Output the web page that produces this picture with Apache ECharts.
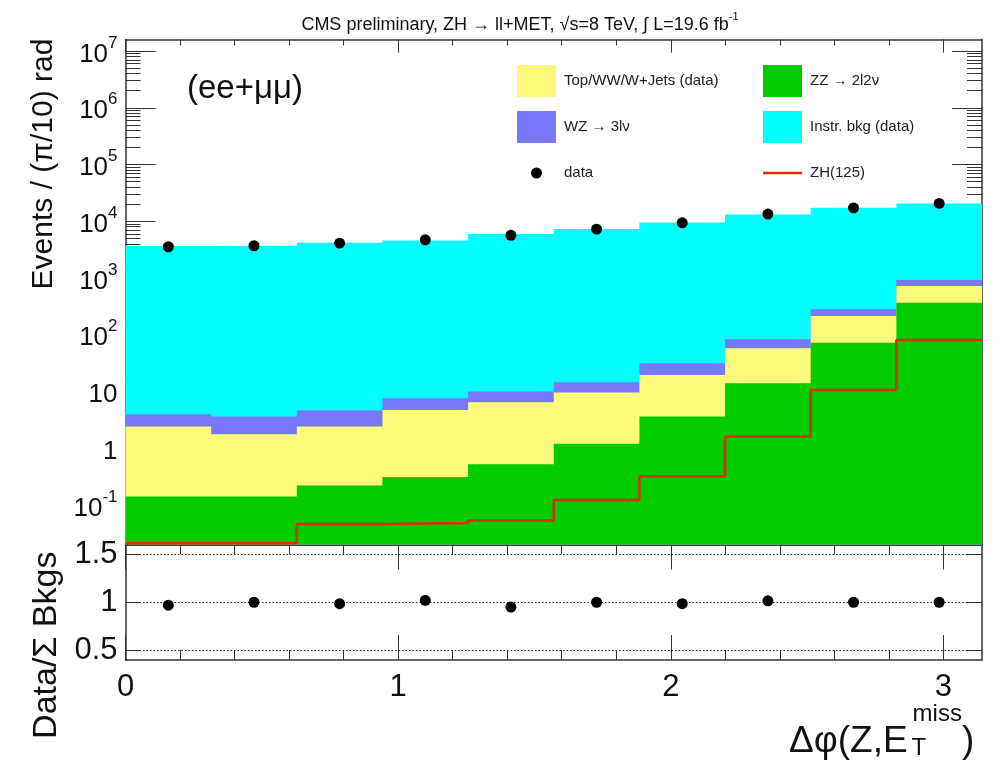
<!DOCTYPE html>
<html>
<head>
<meta charset="utf-8">
<script src="https://cdn.jsdelivr.net/npm/echarts@6/dist/echarts.min.js"></script>
<style>
html,body{margin:0;padding:0;background:#fff;}
#chart{width:1003px;height:762px;}
</style>
</head>
<body>
<div id="chart"></div>
<script>
// ---- data ----
const binEdges   = [0, 0.31416, 0.62832, 0.94248, 1.25664, 1.5708, 1.88496, 2.19911, 2.51327, 2.82743, 3.14159];
const binCenters = [0.15708, 0.47124, 0.7854, 1.09956, 1.41372, 1.72788, 2.04204, 2.3562, 2.67035, 2.98451];
const zz    = [0.14, 0.14, 0.22, 0.31, 0.52, 1.2, 3.6, 13.9, 72, 366];
const topww = [2.26, 1.62, 2.18, 4.4, 5.9, 8.4, 15.9, 43.7, 141, 354];
const wz    = [1.57, 1.84, 2.19, 2.9, 3.5, 4.9, 11.9, 25.4, 67, 198];
const instr = [3640, 3690, 4160, 4580, 5920, 7250, 9500, 13100, 16940, 19640];
const dataEv = [3550, 3700, 4100, 4700, 5650, 7250, 9400, 13400, 17200, 20600];
const zh125 = [0.021, 0.021, 0.046, 0.048, 0.053, 0.122, 0.32, 1.6, 10.6, 81];
const ratio = [0.97, 1.0, 0.985, 1.02, 0.95, 1.0, 0.985, 1.015, 1.0, 1.0];
const xMajorTicks = [0, 1, 2, 3];
const xMinorTicks = [0.2,0.4,0.6,0.8,1.2,1.4,1.6,1.8,2.2,2.4,2.6,2.8,3.0];
const yDecades = [0.1, 1, 10, 100, 1e3, 1e4, 1e5, 1e6, 1e7];
const ratioTicks = [0.5, 1, 1.5];

const FONT = 'Liberation Sans, Arial, Helvetica, sans-serif';
const PI = 3.14159265;
const Y_MIN = 0.02, Y_MAX = 1.6e7;

// minor log ticks (2..9 x decade) inside the axis range
const yMinorTicks = [];
for (let e = -2; e <= 7; e++) for (let k = 2; k <= 9; k++) {
  const v = k * Math.pow(10, e);
  if (v >= Y_MIN && v <= Y_MAX) yMinorTicks.push(+v.toPrecision(3));
}

function stepPts(vals) {
  const p = vals.map((v, i) => [binEdges[i], v]);
  p.push([binEdges[binEdges.length - 1], vals[vals.length - 1]]);
  return p;
}
const cumZZ = zz.slice();
const cumTop = zz.map((v, i) => v + topww[i]);
const cumWZ = cumTop.map((v, i) => v + wz[i]);
const cumAll = cumWZ.map((v, i) => v + instr[i]);

const C_CYAN = '#00ffff', C_BLUE = '#7878fc', C_YEL = '#fcf97b', C_GRN = '#00cc00', C_RED = '#dd2b0e';
const INK = '#111';
const FRAME = {show: true, onZero: false, lineStyle: {color: '#333', width: 1.5}};
const NOLINE = {show: false, onZero: false};

function xAx(grid, pos, ticks, len, opts) {
  return Object.assign({
    gridIndex: grid, type: 'value', min: 0, max: PI, position: pos,
    axisLine: NOLINE, splitLine: {show: false},
    axisTick: {show: true, inside: true, length: len, customValues: ticks, lineStyle: {color: '#333', width: 1}},
    axisLabel: {show: false}
  }, opts || {});
}
function yLog(grid, pos, ticks, len, opts) {
  return Object.assign({
    gridIndex: grid, type: 'log', logBase: 10, min: Y_MIN, max: Y_MAX, position: pos,
    axisLine: NOLINE, splitLine: {show: false}, minorTick: {show: false},
    axisTick: {show: true, inside: true, length: len, customValues: ticks, lineStyle: {color: '#333', width: 1}},
    axisLabel: {show: false}
  }, opts || {});
}
function areaSeries(name, vals, color) {
  return {
    name: name, type: 'line', xAxisIndex: 0, yAxisIndex: 0, step: 'end', z: 2,
    data: stepPts(vals), symbol: 'none', showSymbol: false, color: color,
    itemStyle: {color: color}, lineStyle: {width: 0, color: color},
    areaStyle: {color: color, opacity: 1, origin: 'start'}, silent: true
  };
}

const chart = echarts.init(document.getElementById('chart'), null, {renderer: 'canvas'});
const dotIcon = 'path://M0,0L0.01,0M39,32L38.99,32M14,16a5.5,5.5 0 1,0 11,0a5.5,5.5 0 1,0 -11,0z';
const lineIcon = 'path://M0,0L0.01,0M39,32L38.99,32M0,14.8L39,14.8L39,17.2L0,17.2Z';

const GRID_MAIN = {left: 125.5, top: 39.5, width: 856.5, height: 505, containLabel: false, outerBoundsMode: 'none'};
const GRID_RATIO = {left: 125.5, top: 544.5, width: 856.5, height: 115.5, containLabel: false, outerBoundsMode: 'none'};

chart.setOption({
  animation: false,
  backgroundColor: '#fff',
  textStyle: {fontFamily: FONT},
  title: {
    text: '{a|CMS preliminary, ZH → ll+MET, √s=8 TeV, ∫ L=19.6 fb}{s|-1}',
    left: 515, top: 6, textAlign: 'center',
    textStyle: {fontWeight: 'normal', rich: {
      a: {fontSize: 18, fontFamily: FONT, fontWeight: 'normal', color: INK, verticalAlign: 'bottom', lineHeight: 23},
      s: {fontSize: 11, fontFamily: FONT, fontWeight: 'normal', color: INK, verticalAlign: 'top', lineHeight: 11}
    }}
  },
  legend: [
    {left: 517, top: 65, orient: 'vertical', itemWidth: 39, itemHeight: 32, itemGap: 14, padding: 0,
     selectedMode: false, textStyle: {fontSize: 15, color: '#222', fontFamily: FONT, padding: [0,0,0,3]},
     data: [{name: 'Top/WW/W+Jets (data)', icon: 'rect'}, {name: 'WZ → 3lν', icon: 'rect'}, {name: 'data', icon: dotIcon}]},
    {left: 763, top: 65, orient: 'vertical', itemWidth: 39, itemHeight: 32, itemGap: 14, padding: 0,
     selectedMode: false, textStyle: {fontSize: 15, color: '#222', fontFamily: FONT, padding: [0,0,0,3]},
     data: [{name: 'ZZ → 2l2ν', icon: 'rect'}, {name: 'Instr. bkg (data)', icon: 'rect'}, {name: 'ZH(125)', icon: lineIcon}]}
  ],
  graphic: [
    {type: 'text', left: 187, top: 72, silent: true,
     style: {text: '(ee+μμ)', fontSize: 33, fontFamily: FONT, fill: INK}},
    // x-axis title with stacked sub/superscript
    {type: 'text', x: 789, y: 702, silent: true,
     style: {
       text: '{m|Δφ(Z,E}{g| }{t|T}{s|miss}{m|)}{z| }',
       align: 'left', verticalAlign: 'top', fill: INK,
       rich: {
         m: {fontSize: 37, fontFamily: FONT, fill: INK, lineHeight: 52, verticalAlign: 'bottom'},
         g: {fontSize: 10, lineHeight: 10, width: 4},
         t: {fontSize: 24, fontFamily: FONT, fill: INK, verticalAlign: 'bottom', lineHeight: 16, width: 1, align: 'left'},
         s: {fontSize: 24, fontFamily: FONT, fill: INK, verticalAlign: 'top', lineHeight: 24},
         z: {fontSize: 10, lineHeight: 58, width: 1}
       }
     }}
  ],
  grid: [GRID_MAIN, GRID_RATIO, Object.assign({}, GRID_MAIN), Object.assign({}, GRID_RATIO)],
  xAxis: [
    // grid 0 (main): major ticks + frame
    xAx(0, 'bottom', xMajorTicks, 13, {axisLine: FRAME}),
    xAx(0, 'top', xMajorTicks, 13, {axisLine: FRAME}),
    // grid 2 (overlay of main): minor ticks
    xAx(2, 'bottom', xMinorTicks, 6),
    xAx(2, 'top', xMinorTicks, 6),
    // grid 1 (ratio): major ticks, labels
    xAx(1, 'bottom', xMajorTicks, 25, {
      axisLine: FRAME,
      axisLabel: {show: true, customValues: xMajorTicks, margin: 12, fontSize: 31, color: INK, fontFamily: FONT,
                  formatter: v => String(Math.round(v))}
    }),
    xAx(1, 'top', xMajorTicks, 25, {axisLine: FRAME}),
    // grid 3 (overlay of ratio): minor ticks
    xAx(3, 'bottom', xMinorTicks, 10),
    xAx(3, 'top', xMinorTicks, 10)
  ],
  yAxis: [
    yLog(0, 'left', yDecades, 30, {
      axisLine: FRAME,
      axisLabel: {show: true, customValues: yDecades, margin: 8, color: INK,
        formatter: v => {
          const e = Math.round(Math.log10(v));
          if (e === 0) return '{b|1}';
          if (e === 1) return '{b|10}';
          return '{b|10}{s|' + e + '}';
        },
        rich: {
          b: {fontSize: 26, fontFamily: FONT, color: INK, lineHeight: 33, verticalAlign: 'bottom'},
          s: {fontSize: 17, fontFamily: FONT, color: INK, lineHeight: 17, verticalAlign: 'top'}
        }},
      name: 'Events / (π/10) rad', nameLocation: 'middle', nameGap: 67, nameRotate: 90,
      nameTextStyle: {fontSize: 30, fontFamily: FONT, color: INK, padding: [0, 0, 0, 256]}
    }),
    yLog(0, 'right', yDecades, 30, {axisLine: FRAME}),
    yLog(2, 'left', yMinorTicks, 15),
    yLog(2, 'right', yMinorTicks, 15),
    {
      gridIndex: 1, type: 'value', min: 0.4, max: 1.6, position: 'left',
      axisLine: FRAME, splitLine: {show: false},
      axisTick: {show: true, inside: true, length: 15, customValues: ratioTicks, lineStyle: {color: '#333'}},
      axisLabel: {show: true, customValues: ratioTicks, margin: 8, fontSize: 31, color: INK, fontFamily: FONT,
                  formatter: v => (v === 1 ? '1' : String(v))},
      name: 'Data/Σ Bkgs', nameLocation: 'middle', nameGap: 62, nameRotate: 90,
      nameTextStyle: {fontSize: 34, fontFamily: FONT, color: INK, padding: [0, 86, 0, 0]}
    },
    {
      gridIndex: 1, type: 'value', min: 0.4, max: 1.6, position: 'right',
      axisLine: FRAME, splitLine: {show: false},
      axisTick: {show: true, inside: true, length: 15, customValues: ratioTicks, lineStyle: {color: '#333'}},
      axisLabel: {show: false}
    },
    {gridIndex: 3, type: 'value', min: 0.4, max: 1.6, show: false, axisLine: NOLINE}
  ],
  series: [
    areaSeries('Instr. bkg (data)', cumAll, C_CYAN),
    areaSeries('WZ → 3lν', cumWZ, C_BLUE),
    areaSeries('Top/WW/W+Jets (data)', cumTop, C_YEL),
    areaSeries('ZZ → 2l2ν', cumZZ, C_GRN),
    {
      name: 'ZH(125)', type: 'line', xAxisIndex: 0, yAxisIndex: 0, step: 'end', z: 3,
      data: stepPts(zh125), symbol: 'none', showSymbol: false, color: C_RED,
      itemStyle: {color: C_RED}, lineStyle: {color: C_RED, width: 2.5}, silent: true
    },
    {
      name: 'data', type: 'scatter', xAxisIndex: 0, yAxisIndex: 0, z: 5,
      data: binCenters.map((x, i) => [x, dataEv[i]]), symbol: 'circle', symbolSize: 11,
      itemStyle: {color: '#000', opacity: 1}, color: '#000', silent: true
    },
    {
      name: 'ratio', type: 'scatter', xAxisIndex: 4, yAxisIndex: 4, z: 5,
      data: binCenters.map((x, i) => [x, ratio[i]]), symbol: 'circle', symbolSize: 11,
      itemStyle: {color: '#000', opacity: 1}, silent: true,
      markLine: {silent: true, symbol: 'none', label: {show: false},
        lineStyle: {type: [1.5, 2], color: '#222', width: 1},
        data: ratioTicks.map(v => ({yAxis: v}))}
    }
  ]
});
</script>
</body>
</html>
